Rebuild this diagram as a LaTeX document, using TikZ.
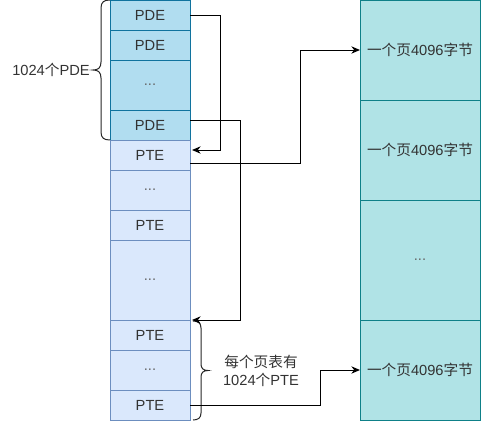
\documentclass[tikz,border=0pt]{standalone}
\usepackage{fontspec}
\setmainfont{Liberation Sans}
\newfontfamily\cjk{Noto Sans CJK SC}
\usetikzlibrary{arrows.meta,calc}
\definecolor{pdefill}{HTML}{B1DDF0}
\definecolor{pdedraw}{HTML}{10739E}
\definecolor{ptefill}{HTML}{DAE8FC}
\definecolor{ptedraw}{HTML}{6C8EBF}
\definecolor{pgfill}{HTML}{B0E3E6}
\definecolor{pgdraw}{HTML}{0E8088}
\definecolor{txt}{HTML}{333333}
\definecolor{dots}{HTML}{666666}
\begin{document}
\begin{tikzpicture}[x=0.75pt,y=-0.75pt,
  base/.style={draw, line width=0.75pt, inner sep=0pt, outer sep=0pt, anchor=north west,
    text=txt, font=\fontsize{11}{12}\selectfont},
  pde/.style={base, fill=pdefill, draw=pdedraw, minimum width=60pt},
  pte/.style={base, fill=ptefill, draw=ptedraw, minimum width=60pt},
  pg/.style={base, fill=pgfill, draw=pgdraw, minimum width=90pt},
  dotcell/.style={text=dots},
  lbl/.style={inner sep=0pt, text=txt, font=\fontsize{11}{13.5}\selectfont},
  conn/.style={draw=black, line width=0.75pt, -{Stealth[length=6.5pt,width=5.5pt]}},
  bracepath/.style={draw=black!85, line width=0.75pt}
]
\useasboundingbox (0,0) rectangle (482,421);

% page directory
\node[pde, minimum height=22.5pt] (pde1) at (110,0) {PDE};
\node[pde, minimum height=22.5pt] (pde2) at (110,30) {PDE};
\node[pde, minimum height=37.5pt, dotcell] (pde3) at (110,60) {...};
\node[pde, minimum height=22.5pt] (pde4) at (110,110) {PDE};

% page tables
\node[pte, minimum height=22.5pt] (pte1) at (110,140) {PTE};
\node[pte, minimum height=30pt, dotcell] (pted1) at (110,170) {...};
\node[pte, minimum height=22.5pt] (pte2) at (110,210) {PTE};
\node[pte, minimum height=60pt, dotcell] (pted2) at (110,240) {...};
\node[pte, minimum height=22.5pt] (pte3) at (110,320) {PTE};
\node[pte, minimum height=30pt, dotcell] (pted3) at (110,350) {...};
\node[pte, minimum height=22.5pt] (pte4) at (110,390) {PTE};

% pages
\node[pg, minimum height=75pt] (pg1) at (360,0) {{\cjk 一个页}4096{\cjk 字节}};
\node[pg, minimum height=75pt] (pg2) at (360,100) {{\cjk 一个页}4096{\cjk 字节}};
\node[pg, minimum height=90pt, dotcell] (pg3) at (360,200) {...};
\node[pg, minimum height=75pt] (pg4) at (360,320) {{\cjk 一个页}4096{\cjk 字节}};

% labels
\node[lbl, anchor=east] (l1) at (90,70) {1024{\cjk 个}PDE};
\node[lbl, align=center] (l2) at (261,371) {{\cjk 每个页表有}\\1024{\cjk 个}PTE};

% braces
\draw[bracepath] (110,0) .. controls (104,0) and (101,2) .. (101,8) -- (101,62)
  .. controls (101,68) and (98,70) .. (93,70)
  .. controls (98,70) and (101,72) .. (101,78) -- (101,132)
  .. controls (101,138) and (104,140) .. (110,140);
\draw[bracepath] (193,321) .. controls (198,321) and (201,323) .. (201,328) -- (201,364)
  .. controls (201,368) and (203,370.5) .. (208,370.5)
  .. controls (203,370.5) and (201,373) .. (201,377) -- (201,413)
  .. controls (201,418) and (198,420) .. (193,420);

% connectors
\draw[conn] (pde1.east) -- ++(30,0) |- ($(pte1.east)+(2,-5)$);
\draw[conn] ($(pde4.east)+(0,-4.5)$) -- ++(50,0) |- ($(pte3.north east)+(2,0)$);
\draw[conn] ($(pte1.east)+(0,8)$) -- ++(110,0) |- (pg1.west);
\draw[conn] (pte4.east) -- ++(130,0) |- (pg4.west);
\end{tikzpicture}
\end{document}
